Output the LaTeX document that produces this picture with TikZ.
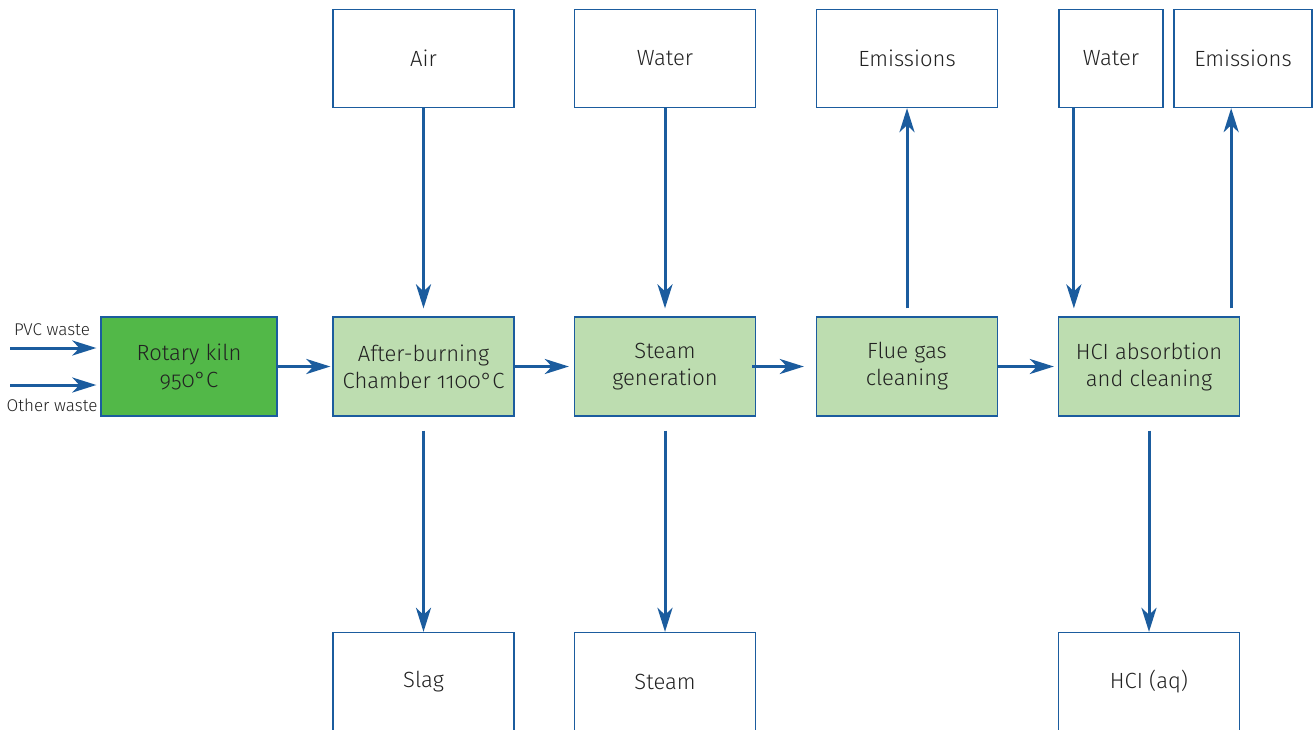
\documentclass[tikz,border=0pt]{standalone}
\usepackage{fontspec}
\setmainfont{Fira Sans Light}[Numbers=OldStyle]
\usetikzlibrary{arrows.meta}
\definecolor{flowblue}{HTML}{1B5C9E}
\definecolor{lightgreen}{HTML}{BDDDB0}
\definecolor{darkgreen}{HTML}{52B848}
\definecolor{txt}{HTML}{222222}
\tikzset{
  box/.style={draw=flowblue, line width=1.3pt, fill=white, inner sep=0pt, align=center,
    text=txt, font=\fontsize{22}{27}\selectfont},
  topbox/.style={box, minimum width=181pt, minimum height=98pt},
  midbox/.style={box, fill=lightgreen, minimum width=181pt, minimum height=99pt},
  arr/.style={draw=flowblue, line width=3pt, -{Stealth[length=24pt, width=15pt, inset=7pt]}},
  small/.style={text=txt, font=\fontsize{17}{20}\selectfont, inner sep=0pt}
}
\begin{document}
\begin{tikzpicture}[x=1pt, y=-1pt]
\useasboundingbox[fill=white] (0,0) rectangle (1313,729);
\begin{scope}
\clip (0,0) rectangle (1313,729);
% top row
\node[topbox] (air) at (423.5,58.5) {Air};
\node[topbox] (water) at (665,58.5) {Water};
\node[topbox] (em1) at (907,58.5) {Emissions};
\node[topbox, minimum width=104pt] (water2) at (1111,58.5) {Water};
\node[topbox, minimum width=138pt] (em2) at (1243,58.5) {Emissions};
% middle row
\node[midbox, fill=darkgreen, minimum width=176pt] (kiln) at (189,366.5) {Rotary kiln\\950°C};
\node[midbox] (ab) at (423.5,366.5) {After-burning\\Chamber 1100°C};
\node[midbox] (steamgen) at (665,366.5) {Steam\\generation};
\node[midbox] (flue) at (907,366.5) {Flue gas\\cleaning};
\node[midbox] (hcl) at (1149,366.5) {HCI absorbtion\\and cleaning};
% bottom row
\node[topbox] (slag) at (423.5,681.5) {Slag};
\node[topbox] (steam) at (665,681.5) {Steam};
\node[topbox] (hclaq) at (1149,681.5) {HCI (aq)};
\end{scope}
% inputs
\coordinate (pvcstart) at (10,348);
\coordinate (othstart) at (10,385);
\node[small] (pvc) at (52,330) {PVC waste};
\node[small] (oth) at (52,405) {Other waste};
\draw[arr, shorten >=4pt] (pvcstart) -- (pvcstart -| kiln.west);
\draw[arr, shorten >=4pt] (othstart) -- (othstart -| kiln.west);
% horizontal flow
\draw[arr, shorten >=2pt] (kiln.east) -- (ab.west);
\draw[arr, shorten >=5pt] (ab.east) -- (steamgen.west);
\draw[arr, shorten <=-4pt, shorten >=12pt] (steamgen.east) -- (flue.west);
\draw[arr, shorten >=4pt] (flue.east) -- (hcl.west);
% vertical from top
\draw[arr, shorten >=8pt] (air.south) -- (ab.north);
\draw[arr, shorten >=8pt] (water.south) -- (steamgen.north);
\draw[arr, shorten <=8pt] (flue.north) -- (em1.south);
\coordinate (w2in) at ([xshift=16pt]hcl.north west);
\draw[arr, shorten >=8pt] (w2in |- water2.south) -- (w2in);
\coordinate (e2out) at ([xshift=-9pt]hcl.north east);
\draw[arr, shorten <=8pt] (e2out) -- (e2out |- em2.south);
% vertical to bottom
\draw[arr, shorten <=14pt] (ab.south) -- (slag.north);
\draw[arr, shorten <=14pt] (steamgen.south) -- (steam.north);
\draw[arr, shorten <=14pt] (hcl.south) -- (hclaq.north);
\end{tikzpicture}
\end{document}
